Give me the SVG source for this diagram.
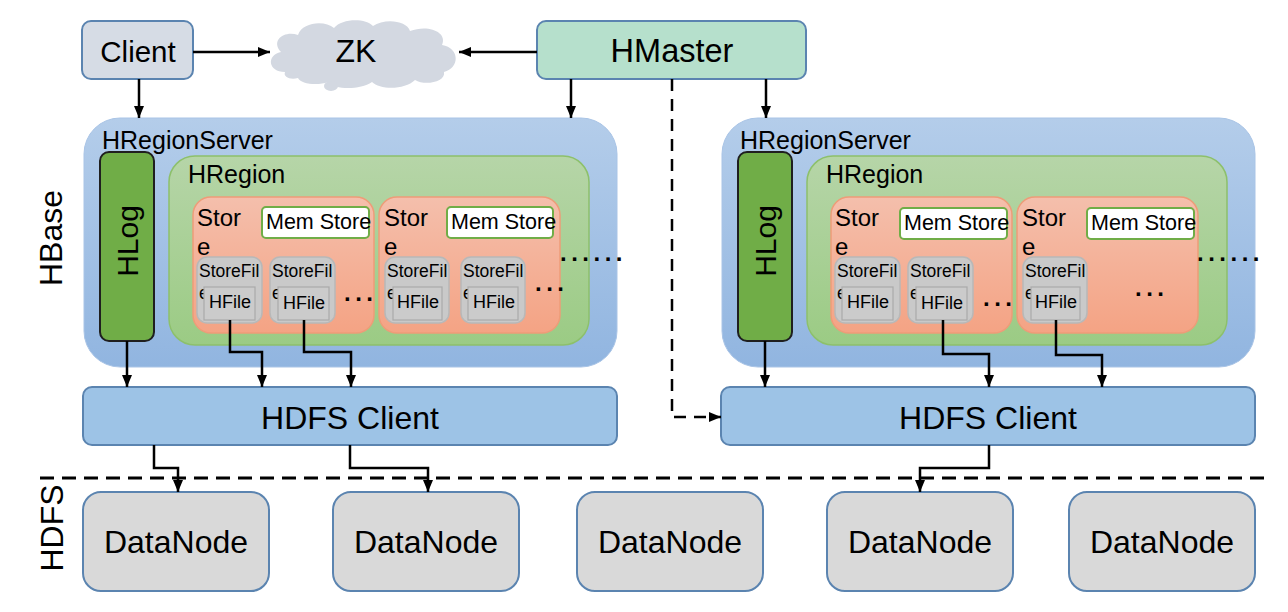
<svg xmlns="http://www.w3.org/2000/svg" width="1288" height="612" viewBox="0 0 1288 612">
<defs>
<linearGradient id="gHRS" x1="0" y1="0" x2="0" y2="1"><stop offset="0" stop-color="#b4cdea"/><stop offset="1" stop-color="#91b5e0"/></linearGradient>
<linearGradient id="gHR" x1="0" y1="0" x2="0" y2="1"><stop offset="0" stop-color="#b6d5a8"/><stop offset="1" stop-color="#9bcb84"/></linearGradient>
<linearGradient id="gST" x1="0" y1="0" x2="0" y2="1"><stop offset="0" stop-color="#f4bfac"/><stop offset="1" stop-color="#f4a384"/></linearGradient>
<marker id="ah" markerUnits="userSpaceOnUse" markerWidth="12" markerHeight="12" viewBox="0 0 12 12" refX="12" refY="6" orient="auto"><path d="M0,1 L12,6 L0,11 z" fill="#000"/></marker>
</defs>
<style>
text{font-family:"Liberation Sans",Arial,sans-serif;fill:#000}
.hrs{fill:url(#gHRS);stroke:#a9c4e6;stroke-width:1}
.hr{fill:url(#gHR);stroke:#8dc06b;stroke-width:1.5}
.st{fill:url(#gST);stroke:#ee9c78;stroke-width:1.5}
.ms{fill:#fff;stroke:#70ad47;stroke-width:2}
.sf{fill:#c9c9c9;stroke:#b8b8b8;stroke-width:1.5}
.hf{fill:#cbcbcb;stroke:#aaaaaa;stroke-width:1.2}
.hlog{fill:#70ad47;stroke:#1f1f1f;stroke-width:2}
.hdfs{fill:#9dc3e6;stroke:#5b84b0;stroke-width:2}
.dn{fill:#d9d9d9;stroke:#5b84b0;stroke-width:2}
.l25{font-size:25px}
.l24{font-size:24px}
.l21{font-size:21.5px}
.l17{font-size:17.5px}
.l18{font-size:18px}
.dots{font-size:24px;font-weight:bold;letter-spacing:4.5px}
.big{font-size:32px;text-anchor:middle}
.dnt{font-size:32px;text-anchor:middle}
.cn{fill:none;stroke:#000;stroke-width:2.5;marker-end:url(#ah)}
.dash{fill:none;stroke:#000;stroke-width:2.5;stroke-dasharray:12 8}
</style>

<g id="client"><rect x="82" y="21" width="111" height="58" rx="9" fill="#d6dce5" stroke="#5b84b0" stroke-width="2"/><text x="138" y="62" font-size="29.5" text-anchor="middle">Client</text></g>

<g id="zk"><path d="M285,72 C268,72 266,55 281,52 C270,40 285,30 298,35 C302,22 325,20 334,28 C342,18 366,18 373,26 C384,18 407,20 410,31 C428,24 448,32 442,45 C460,48 460,68 444,72 C446,82 425,86 415,80 C405,90 380,90 372,82 C360,90 335,90 328,82 C318,86 300,84 298,78 C290,80 283,77 285,72 Z" fill="#d3d8e1"/><ellipse cx="331" cy="86" rx="7" ry="5" fill="#d3d8e1"/><text x="356" y="62" font-size="32" text-anchor="middle">ZK</text></g>

<g id="hmaster"><rect x="537" y="21" width="269" height="58" rx="9" fill="#b6e0cc" stroke="#5b84b0" stroke-width="2"/><text x="672" y="62" font-size="32.5" text-anchor="middle">HMaster</text></g>

<g id="hbase-label"><text transform="translate(50,238) rotate(-90)" y="11.5" font-size="32" text-anchor="middle">HBase</text></g>
<g id="hdfs-label"><text transform="translate(51,528) rotate(-90)" y="11.5" font-size="32" text-anchor="middle">HDFS</text></g>

<g id="hrs-left">
<rect class="hrs" x="84" y="118" width="533" height="249" rx="36"/>
<text class="l25" x="102" y="149">HRegionServer</text>
<g id="hregion-left">
<rect class="hr" x="169" y="156" width="420" height="189" rx="26"/>
<text class="l25" x="188" y="183">HRegion</text>
<g id="store-l1">
<rect class="st" x="193" y="197" width="181" height="136" rx="18"/>
<text class="l24" x="197" y="226">Stor</text><text class="l24" x="197" y="255">e</text>
<rect class="ms" x="262" y="207" width="107" height="31" rx="4"/><text class="l21" x="266" y="229">Mem Store</text>
<rect class="sf" x="197" y="257" width="65" height="66" rx="10"/><text class="l17" x="199" y="277">StoreFil</text><text class="l17" x="199" y="299">e</text>
<rect class="hf" x="204" y="287" width="51" height="33"/><text class="l18" x="209" y="308">HFile</text>
<rect class="sf" x="270" y="257" width="65" height="66" rx="10"/><text class="l17" x="272" y="277">StoreFil</text><text class="l17" x="272" y="299">e</text>
<rect class="hf" x="278" y="287" width="51" height="33"/><text class="l18" x="283" y="309">HFile</text>
<text class="dots" x="344" y="301">...</text>
</g>
<g id="store-l2">
<rect class="st" x="379" y="197" width="181" height="136" rx="18"/>
<text class="l24" x="384" y="226">Stor</text><text class="l24" x="384" y="255">e</text>
<rect class="ms" x="447" y="207" width="106" height="31" rx="4"/><text class="l21" x="451" y="229">Mem Store</text>
<rect class="sf" x="385" y="257" width="64" height="66" rx="10"/><text class="l17" x="387" y="277">StoreFil</text><text class="l17" x="387" y="299">e</text>
<rect class="hf" x="393" y="287" width="49" height="33"/><text class="l18" x="397" y="308">HFile</text>
<rect class="sf" x="461" y="257" width="64" height="66" rx="10"/><text class="l17" x="463" y="277">StoreFil</text><text class="l17" x="463" y="299">e</text>
<rect class="hf" x="468" y="287" width="50" height="33"/><text class="l18" x="473" y="308">HFile</text>
<text class="dots" x="535" y="291">...</text>
</g>
<text class="dots" x="560" y="261">......</text>
</g>
<g id="hlog-left"><rect class="hlog" x="100" y="152" width="54" height="189" rx="9"/><text transform="translate(127,241) rotate(-90)" y="11" font-size="30" text-anchor="middle">HLog</text></g>
</g>

<g id="hrs-right">
<rect class="hrs" x="722" y="118" width="533" height="249" rx="36"/>
<text class="l25" x="740" y="149">HRegionServer</text>
<g id="hregion-right">
<rect class="hr" x="807" y="156" width="420" height="189" rx="26"/>
<text class="l25" x="826" y="183">HRegion</text>
<g id="store-r1">
<rect class="st" x="831" y="197" width="181" height="136" rx="18"/>
<text class="l24" x="835" y="226">Stor</text><text class="l24" x="835" y="255">e</text>
<rect class="ms" x="900" y="208" width="107" height="31" rx="4"/><text class="l21" x="904" y="230">Mem Store</text>
<rect class="sf" x="835" y="257" width="65" height="66" rx="10"/><text class="l17" x="837" y="277">StoreFil</text><text class="l17" x="837" y="299">e</text>
<rect class="hf" x="842" y="287" width="51" height="33"/><text class="l18" x="847" y="308">HFile</text>
<rect class="sf" x="908" y="257" width="65" height="66" rx="10"/><text class="l17" x="910" y="277">StoreFil</text><text class="l17" x="910" y="299">e</text>
<rect class="hf" x="916" y="287" width="51" height="33"/><text class="l18" x="921" y="309">HFile</text>
<text class="dots" x="983" y="306">...</text>
</g>
<g id="store-r2">
<rect class="st" x="1017" y="197" width="181" height="136" rx="18"/>
<text class="l24" x="1022" y="226">Stor</text><text class="l24" x="1022" y="255">e</text>
<rect class="ms" x="1087" y="208" width="107" height="31" rx="4"/><text class="l21" x="1091" y="230">Mem Store</text>
<rect class="sf" x="1023" y="257" width="64" height="66" rx="10"/><text class="l17" x="1025" y="277">StoreFil</text><text class="l17" x="1025" y="299">e</text>
<rect class="hf" x="1031" y="287" width="49" height="33"/><text class="l18" x="1035" y="308">HFile</text>
<text class="dots" x="1135" y="296">...</text>
</g>
<text class="dots" x="1197" y="261">......</text>
</g>
<g id="hlog-right"><rect class="hlog" x="738" y="152" width="54" height="189" rx="9"/><text transform="translate(765,241) rotate(-90)" y="11" font-size="30" text-anchor="middle">HLog</text></g>
</g>

<g id="hdfs-client-left"><rect class="hdfs" x="83" y="387" width="534" height="58" rx="9"/><text class="big" x="350" y="429">HDFS Client</text></g>
<g id="hdfs-client-right"><rect class="hdfs" x="721" y="387" width="534" height="58" rx="9"/><text class="big" x="988" y="429">HDFS Client</text></g>

<g id="datanode-1"><rect class="dn" x="83" y="492" width="186" height="99" rx="18"/><text class="dnt" x="176" y="553">DataNode</text></g>
<g id="datanode-2"><rect class="dn" x="333" y="492" width="186" height="99" rx="18"/><text class="dnt" x="426" y="553">DataNode</text></g>
<g id="datanode-3"><rect class="dn" x="577" y="492" width="186" height="99" rx="18"/><text class="dnt" x="670" y="553">DataNode</text></g>
<g id="datanode-4"><rect class="dn" x="827" y="492" width="186" height="99" rx="18"/><text class="dnt" x="920" y="553">DataNode</text></g>
<g id="datanode-5"><rect class="dn" x="1069" y="492" width="186" height="99" rx="18"/><text class="dnt" x="1162" y="553">DataNode</text></g>

<g id="separator"><path d="M40,478 L1265,478" fill="none" stroke="#000" stroke-width="3" stroke-dasharray="14 8"/></g>

<g id="connectors">
<path class="cn" d="M193,52 L270,52"/>
<path class="cn" d="M537,52 L459,52"/>
<path class="cn" d="M139,79 L139,118"/>
<path class="cn" d="M571,79 L571,118"/>
<path class="cn" d="M766,79 L766,118"/>
<path class="dash" d="M672,79 L672,417 L721,417" marker-end="url(#ah)"/>
<path class="cn" d="M127,341 L127,387"/>
<path class="cn" d="M765,341 L765,387"/>
<path class="cn" d="M230,320 L230,352 L262,352 L262,387"/>
<path class="cn" d="M304,320 L304,352 L351,352 L351,387"/>
<path class="cn" d="M943,320 L943,354 L989,354 L989,387"/>
<path class="cn" d="M1056,320 L1056,355 L1102,355 L1102,387"/>
<path class="cn" d="M154,445 L154,468 L178,468 L178,492"/>
<path class="cn" d="M350,445 L350,468 L428,468 L428,492"/>
<path class="cn" d="M989,445 L989,468 L920,468 L920,492"/>
</g>
</svg>
